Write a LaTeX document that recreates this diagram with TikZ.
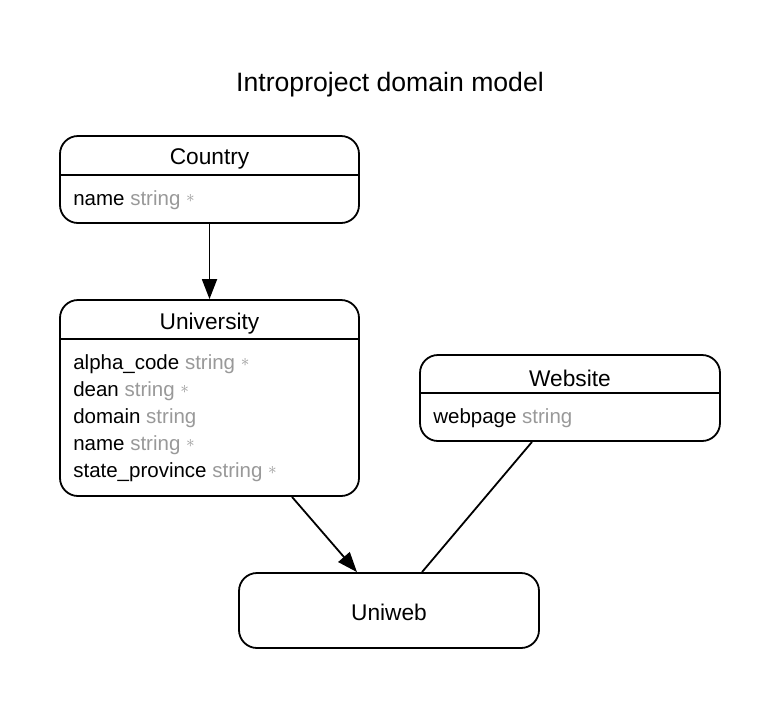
\documentclass[tikz,border=0pt]{standalone}
\usepackage{fontspec}
\setmainfont{Liberation Sans}
\usetikzlibrary{arrows.meta}
\definecolor{attrgray}{HTML}{999999}
\tikzset{
  entity/.style={draw, line width=1.8pt, rounded corners=18pt, inner sep=0pt},
  hline/.style={line width=1.8pt},
  ttl/.style={inner sep=0pt, font=\fontsize{22.7}{27}\selectfont},
  attr/.style={anchor=base west, inner sep=0pt, font=\fontsize{20.5}{24}\selectfont},
  conn/.style={line width=1.8pt},
  tipped/.style={-{Triangle[length=20pt,width=15pt]}}
}
\newcommand{\typ}[1]{\textcolor{attrgray}{#1}}
\newcommand{\req}{\textcolor{attrgray}{\raisebox{3pt}{\fontsize{17}{17}\selectfont$\ast$}}}
\begin{document}
\begin{tikzpicture}[x=1pt,y=-1pt]
\useasboundingbox (0,0) rectangle (781,710);
\node[inner sep=0pt, font=\fontsize{26.6}{30}\selectfont] (title) at (390,85) {Introproject domain model};

% Country
\node[entity, minimum width=299pt, minimum height=87pt] (country) at (209.5,179.5) {};
\draw[hline] ([yshift=-40pt]country.north west) -- ([yshift=-40pt]country.north east);
\node[ttl] (countryT) at ([yshift=-24pt]country.north) {Country};
\node[attr] (countryA1) at ([xshift=14pt,yshift=-70pt]country.north west) {name \typ{string} \req};

% University
\node[entity, minimum width=299pt, minimum height=196pt] (univ) at (209.5,398) {};
\draw[hline] ([yshift=-40pt]univ.north west) -- ([yshift=-40pt]univ.north east);
\node[ttl] (univT) at ([yshift=-25pt]univ.north) {University};
\node[attr] (univA1) at ([xshift=14pt,yshift=-70pt]univ.north west) {alpha\_code \typ{string} \req};
\node[attr] (univA2) at ([xshift=14pt,yshift=-97pt]univ.north west) {dean \typ{string} \req};
\node[attr] (univA3) at ([xshift=14pt,yshift=-124pt]univ.north west) {domain \typ{string}};
\node[attr] (univA4) at ([xshift=14pt,yshift=-151pt]univ.north west) {name \typ{string} \req};
\node[attr] (univA5) at ([xshift=14pt,yshift=-178pt]univ.north west) {state\_province \typ{string} \req};

% Website
\node[entity, minimum width=300pt, minimum height=86pt] (website) at (570,398) {};
\draw[hline] ([yshift=-39pt]website.north west) -- ([yshift=-39pt]website.north east);
\node[ttl] (websiteT) at ([yshift=-24pt]website.north) {Website};
\node[attr] (websiteA1) at ([xshift=14pt,yshift=-69pt]website.north west) {webpage \typ{string}};

% Uniweb
\node[entity, minimum width=300pt, minimum height=75pt] (uniweb) at (389,610.5) {};
\node[ttl] (uniwebT) at ([yshift=-2pt]uniweb.center) {Uniweb};

% Connectors
\draw[conn,tipped] (country) -- (univ);
\draw[conn,tipped] ([xshift=82.5pt]univ.south) -- ([xshift=-32pt]uniweb.north);
\draw[conn] ([xshift=-38pt]website.south) -- ([xshift=33pt]uniweb.north);
\end{tikzpicture}
\end{document}
